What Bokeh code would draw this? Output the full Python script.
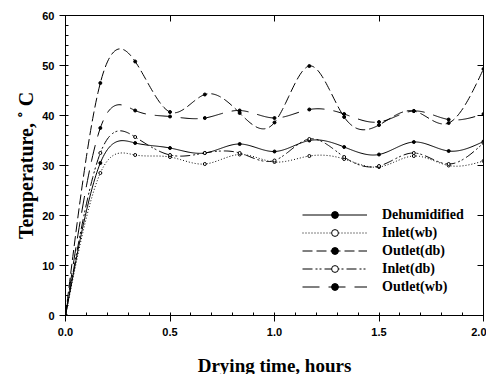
import numpy as np
from bokeh.plotting import figure
from bokeh.models import (LinearAxis, Legend, LegendItem, Range1d,
                          SingleIntervalTicker, PrintfTickFormatter)
from bokeh.embed import file_html
from bokeh.resources import INLINE

# ---- data ----
time_h = [0, 1/6, 2/6, 3/6, 4/6, 5/6, 1.0, 7/6, 8/6, 9/6, 10/6, 11/6, 2.0]
dehumidified = [0, 30.5, 34.5, 33.5, 32.5, 34.3, 32.8, 35.0, 33.7, 32.2, 34.7, 32.9, 34.8]
inlet_wb     = [0, 28.5, 32.1, 31.7, 30.3, 32.2, 30.7, 31.9, 31.3, 29.7, 31.9, 30.0, 30.9]
outlet_db    = [0, 46.5, 50.8, 40.7, 44.2, 40.5, 38.6, 49.9, 39.7, 38.1, 40.9, 38.5, 49.3]
inlet_db     = [0, 32.5, 35.7, 32.1, 32.5, 32.5, 31.0, 35.3, 31.7, 29.9, 32.5, 30.3, 34.5]
outlet_wb    = [0, 37.5, 41.0, 39.8, 39.5, 41.0, 39.5, 41.2, 40.3, 38.7, 40.9, 39.2, 40.3]

series_names = ["Dehumidified", "Inlet(wb)", "Outlet(db)", "Inlet(db)", "Outlet(wb)"]
series_vals = [dehumidified, inlet_wb, outlet_db, inlet_db, outlet_wb]
dashes = ["solid", "1 2", "10 4", "10 3 2 2 2 3", "17 9"]
open_marker = [False, True, False, True, False]


def natural_spline(x, y, n=400):
    x = np.asarray(x, float)
    y = np.asarray(y, float)
    m = len(x)
    h = np.diff(x)
    A = np.zeros((m, m))
    b = np.zeros(m)
    A[0, 0] = 1
    A[-1, -1] = 1
    for i in range(1, m - 1):
        A[i, i - 1] = h[i - 1]
        A[i, i] = 2 * (h[i - 1] + h[i])
        A[i, i + 1] = h[i]
        b[i] = 6 * ((y[i + 1] - y[i]) / h[i] - (y[i] - y[i - 1]) / h[i - 1])
    M = np.linalg.solve(A, b)
    xs = np.linspace(x[0], x[-1], n)
    idx = np.clip(np.searchsorted(x, xs) - 1, 0, m - 2)
    x0, x1 = x[idx], x[idx + 1]
    hh = x1 - x0
    a = (x1 - xs) / hh
    c = (xs - x0) / hh
    ys = (a * y[idx] + c * y[idx + 1]
          + ((a ** 3 - a) * M[idx] + (c ** 3 - c) * M[idx + 1]) * hh ** 2 / 6)
    return xs, ys


p = figure(frame_width=418, frame_height=300,
           x_range=Range1d(0, 2), y_range=Range1d(0, 60),
           output_backend="svg", toolbar_location=None,
           min_border_left=65, min_border_top=15, min_border_right=3,
           min_border_bottom=10, x_axis_location=None, y_axis_location=None)
p.grid.visible = False
p.outline_line_color = "black"
p.outline_line_width = 1
p.background_fill_color = "white"
p.border_fill_color = "white"

tick_font = "Liberation Sans"
label_font = "Liberation Serif"

xb = LinearAxis(ticker=SingleIntervalTicker(interval=0.5, num_minor_ticks=5),
                formatter=PrintfTickFormatter(format="%.1f"),
                axis_label="Drying time, hours")
yl = LinearAxis(ticker=SingleIntervalTicker(interval=10, num_minor_ticks=5),
                formatter=PrintfTickFormatter(format="%d"),
                axis_label="Temperature, \u02da C")
for ax in (xb, yl):
    ax.major_tick_in = 0
    ax.major_tick_out = 6
    ax.minor_tick_in = 3
    ax.minor_tick_out = 0
    ax.major_label_text_font = tick_font
    ax.major_label_text_font_style = "bold"
    ax.major_label_text_font_size = "11px"
    ax.major_label_text_color = "black"
    ax.axis_label_text_font = label_font
    ax.axis_label_text_font_style = "bold"
    ax.axis_label_text_color = "black"
    ax.axis_line_color = "black"
    ax.major_tick_line_color = "black"
    ax.minor_tick_line_color = "black"
xb.major_label_standoff = 6
xb.axis_label_standoff = 16
xb.axis_label_text_font_size = "19px"
yl.major_label_standoff = 5
yl.axis_label_standoff = 2
yl.axis_label_text_font_size = "20px"
p.add_layout(xb, "below")
p.add_layout(yl, "left")

xt = LinearAxis(ticker=SingleIntervalTicker(interval=0.5, num_minor_ticks=0))
yr = LinearAxis(ticker=SingleIntervalTicker(interval=10, num_minor_ticks=0))
for ax in (xt, yr):
    ax.major_tick_in = 6
    ax.major_tick_out = 0
    ax.minor_tick_in = 0
    ax.minor_tick_out = 0
    ax.major_label_text_font_size = "0px"
    ax.major_label_text_color = None
    ax.major_label_standoff = 0
    ax.axis_line_color = "black"
    ax.major_tick_line_color = "black"
p.add_layout(xt, "above")
p.add_layout(yr, "right")

items = []
for name, vals, dash, is_open in zip(series_names, series_vals, dashes, open_marker):
    xs, ys = natural_spline(time_h, vals)
    lr = p.line(xs, ys, line_color="black", line_width=1, line_dash=dash)
    sr = p.scatter(time_h, vals, marker="circle", size=3,
                   fill_color="white" if is_open else "black",
                   line_color="black", line_width=1)
    items.append(LegendItem(label=name, renderers=[lr, sr]))

legend = Legend(items=items, location=(237, 20))
legend.border_line_color = None
legend.background_fill_alpha = 0
legend.padding = 0
legend.margin = 0
legend.spacing = 1
legend.glyph_width = 65
legend.glyph_height = 17
legend.label_height = 17
legend.label_standoff = 15
legend.label_text_font = label_font
legend.label_text_font_style = "bold"
legend.label_text_font_size = "14px"
legend.label_text_color = "black"
p.add_layout(legend, "center")

open("out.html", "w").write(file_html(p, INLINE))
